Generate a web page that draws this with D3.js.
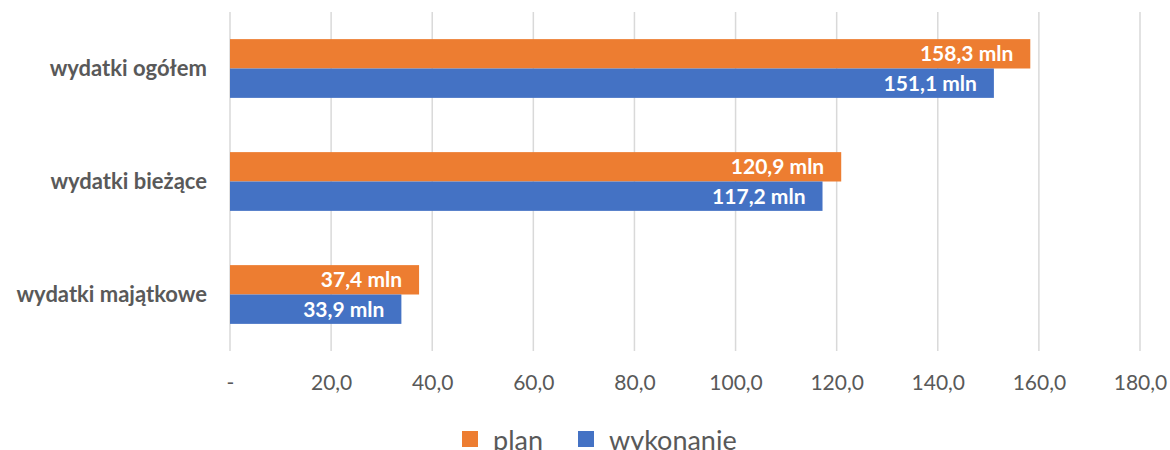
<!DOCTYPE html>
<html lang="pl">
<head>
<meta charset="utf-8">
<title>wydatki</title>
<style>
    body { margin : 0; background : #fff; }
    svg text { font-family : Lato, "Open Sans", sans-serif; }
</style>
</head>
<body>
<div id="chart"></div>
<script src="https://cdn.jsdelivr.net/npm/d3@7/dist/d3.min.js"></script>
<script>

    var categories = [ "wydatki ogółem" , "wydatki bieżące" , "wydatki majątkowe" ];
    var series = [ "plan" , "wykonanie" ];
    var plan = [ 158.3 , 120.9 , 37.4 ];
    var wykonanie = [ 151.1 , 117.2 , 33.9 ];
    var ticks = [ 0 , 20 , 40 , 60 , 80 , 100 , 120 , 140 , 160 , 180 ];
    var colors = [ "#ed7d31" , "#4472c4" ];

    var W = 1170 , H = 450;
    var plotLeft = 230 , plotRight = 1140 , plotTop = 12 , plotBottom = 351;

    var rows = [];
    for( var i=0 ; i<categories.length ; i++ )
        rows.push( { cat : categories[i] , values : [ plan[i] , wykonanie[i] ] } );

    var svg = d3.select( "#chart" ).append( "svg" )
        .attr( "width" , W )
        .attr( "height" , H );

    var x = d3.scaleLinear().domain( [ 0 , 180 ] ).range( [ plotLeft , plotRight ] );
    var y = d3.scaleBand().domain( categories ).range( [ plotTop , plotBottom ] ).paddingInner( 0.48 ).paddingOuter( 0.24 );
    var y1 = d3.scaleBand().domain( series ).range( [ 0 , y.bandwidth() ] );

    var fmt = function( v ) { return d3.format( ".1f" )( v ).replace( "." , "," ); };

    // grid
    svg.append( "g" ).selectAll( "line" )
        .data( ticks )
        .enter().append( "line" )
            .attr( "x1" , x ).attr( "x2" , x )
            .attr( "y1" , plotTop ).attr( "y2" , plotBottom )
            .attr( "stroke" , "#d9d9d9" )
            .attr( "stroke-width" , 1.5 );

    // x axis labels
    var xAxis = d3.axisBottom( x ).tickValues( ticks ).tickSize( 0 ).tickPadding( 0 )
        .tickFormat( function( d ) { return d == 0 ? "-" : fmt( d ); } );
    var gx = svg.append( "g" ).attr( "transform" , "translate(0,383)" ).call( xAxis );
    gx.select( ".domain" ).remove();
    gx.selectAll( "text" )
        .attr( "dy" , "0.35em" )
        .attr( "y" , 0 )
        .style( "font-family" , "Lato, sans-serif" )
        .style( "font-size" , "21px" )
        .attr( "fill" , "#595959" );

    // category labels
    var yAxis = d3.axisLeft( y ).tickSize( 0 ).tickPadding( 0 );
    var gy = svg.append( "g" ).attr( "transform" , "translate(207,0)" ).call( yAxis );
    gy.select( ".domain" ).remove();
    gy.selectAll( "text" )
        .style( "font-family" , "Lato, sans-serif" )
        .style( "font-size" , "22px" )
        .style( "font-weight" , "bold" )
        .attr( "fill" , "#595959" );

    // bars
    var group = svg.selectAll( ".cat" )
        .data( rows )
        .enter().append( "g" )
            .attr( "class" , "cat" )
            .attr( "transform" , function( d ) { return "translate(0," + y( d.cat ) + ")"; } );

    var bar = group.selectAll( ".bar" )
        .data( function( d ) { return d.values.map( function( v , j ) { return { s : series[j] , v : v , j : j }; } ); } )
        .enter().append( "g" ).attr( "class" , "bar" );

    bar.append( "rect" )
        .attr( "x" , x( 0 ) )
        .attr( "y" , function( d ) { return y1( d.s ); } )
        .attr( "width" , function( d ) { return x( d.v ) - x( 0 ); } )
        .attr( "height" , y1.bandwidth() )
        .attr( "fill" , function( d ) { return colors[d.j]; } );

    bar.append( "text" )
        .attr( "x" , function( d ) { return x( d.v ) - 17; } )
        .attr( "y" , function( d ) { return y1( d.s ) + y1.bandwidth() / 2; } )
        .attr( "dy" , "0.35em" )
        .attr( "text-anchor" , "end" )
        .attr( "fill" , "#fff" )
        .style( "font-size" , "21px" )
        .style( "font-weight" , "bold" )
        .text( function( d ) { return fmt( d.v ) + " mln"; } );

    // legend
    var legendX = [ 462 , 578 ];
    var legend = svg.selectAll( ".legend" )
        .data( series )
        .enter().append( "g" )
            .attr( "class" , "legend" )
            .attr( "transform" , function( d , i ) { return "translate(" + legendX[i] + ",431)"; } );
    legend.append( "rect" )
        .attr( "width" , 16 ).attr( "height" , 16 )
        .attr( "fill" , function( d , i ) { return colors[i]; } );
    legend.append( "text" )
        .attr( "x" , 31 ).attr( "y" , 10 ).attr( "dy" , "0.35em" )
        .attr( "fill" , "#595959" )
        .style( "font-size" , "27px" )
        .text( function( d ) { return d; } );

</script>
</body>
</html>
